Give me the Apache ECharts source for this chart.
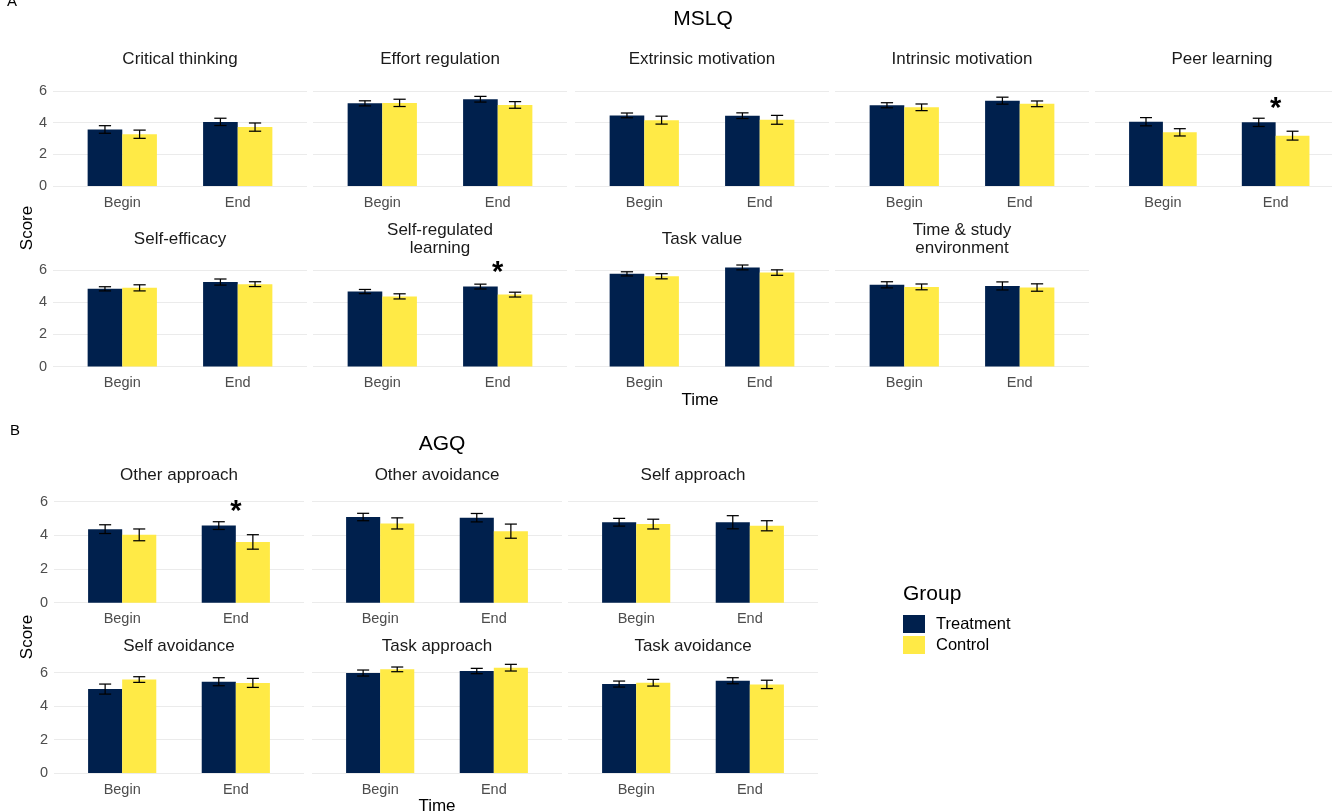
<!DOCTYPE html>
<html>
<head>
<meta charset="utf-8">
<script src="https://cdn.jsdelivr.net/npm/echarts@6/dist/echarts.min.js"></script>
<style>html,body{margin:0;padding:0;background:#fff}#c{width:1332px;height:812px}</style>
</head>
<body>
<div id="c"></div>
<script>
// ---------------- DATA ----------------
const times = ['Begin', 'End'];
const groups = ['Treatment', 'Control'];

const mslqScales = ['Critical thinking', 'Effort regulation', 'Extrinsic motivation', 'Intrinsic motivation', 'Peer learning',
  'Self-efficacy', 'Self-regulated\nlearning', 'Task value', 'Time & study\nenvironment'];
const mslqTreatmentMean = [[3.57, 4.05], [5.22, 5.48], [4.46, 4.44], [5.10, 5.39], [4.06, 4.02], [4.83, 5.25], [4.66, 4.97], [5.76, 6.16], [5.08, 5.01]];
const mslqTreatmentErr  = [[0.24, 0.23], [0.16, 0.18], [0.15, 0.18], [0.16, 0.22], [0.26, 0.26], [0.13, 0.19], [0.13, 0.15], [0.13, 0.15], [0.19, 0.25]];
const mslqControlMean   = [[3.27, 3.72], [5.25, 5.12], [4.16, 4.18], [4.97, 5.19], [3.39, 3.18], [4.89, 5.12], [4.36, 4.47], [5.61, 5.84], [4.95, 4.91]];
const mslqControlErr    = [[0.26, 0.26], [0.23, 0.21], [0.25, 0.28], [0.21, 0.18], [0.23, 0.28], [0.19, 0.15], [0.16, 0.15], [0.16, 0.17], [0.18, 0.23]];

const agqScales = ['Other approach', 'Other avoidance', 'Self approach', 'Self avoidance', 'Task approach', 'Task avoidance'];
const agqTreatmentMean = [[4.37, 4.58], [5.09, 5.05], [4.78, 4.78], [5.02, 5.46], [5.98, 6.10], [5.32, 5.52]];
const agqTreatmentErr  = [[0.26, 0.23], [0.22, 0.25], [0.23, 0.39], [0.30, 0.24], [0.18, 0.16], [0.18, 0.18]];
const agqControlMean   = [[4.03, 3.61], [4.71, 4.25], [4.67, 4.57], [5.59, 5.39], [6.20, 6.30], [5.40, 5.30]];
const agqControlErr    = [[0.35, 0.43], [0.33, 0.42], [0.29, 0.30], [0.17, 0.27], [0.14, 0.20], [0.20, 0.25]];

// significance markers (scale, time, y position of the star in score units)
const starScales = ['Peer learning', 'Self-regulated\nlearning', 'Other approach'];
const starTimes  = ['End', 'End', 'End'];
const starY      = [4.85, 5.8, 5.37];

const yTicks = [0, 2, 4, 6];

// ---------------- LAYOUT ----------------
const FONT = 'Liberation Sans, Arial, sans-serif';
const COLORS = ['#00204D', '#FFEA46'];
const GRIDCOL = '#EBEBEB';

const panels = [];
const aLefts = [53, 313, 575, 835, 1095], aW = 254;
const aRows = [{ y0: 186, y6: 91, ty: 59 }, { y0: 366.5, y6: 270, ty: 239.5 }];
mslqScales.forEach((s, i) => {
  const r = Math.floor(i / 5), c = i % 5;
  panels.push({ scale: s, tm: mslqTreatmentMean[i], te: mslqTreatmentErr[i], cm: mslqControlMean[i], ce: mslqControlErr[i],
    left: aLefts[c], width: aW, y0: aRows[r].y0, y6: aRows[r].y6, ty: aRows[r].ty, showY: c === 0, ymax: 6.6 });
});
const bLefts = [54, 312, 568], bW = 250;
const bRows = [{ y0: 602.7, y6: 501.7, ty: 475 }, { y0: 773, y6: 672.7, ty: 646 }];
agqScales.forEach((s, i) => {
  const r = Math.floor(i / 3), c = i % 3;
  panels.push({ scale: s, tm: agqTreatmentMean[i], te: agqTreatmentErr[i], cm: agqControlMean[i], ce: agqControlErr[i],
    left: bLefts[c], width: bW, y0: bRows[r].y0, y6: bRows[r].y6, ty: bRows[r].ty, showY: c === 0, ymax: 6.9 });
});

const grid = [], xAxis = [], yAxis = [], series = [], graphic = [];

function errRender(params, api) {
  const t = api.value(0), m = api.value(1), e = api.value(2), g = api.value(3);
  const c = api.coord([t, m]);
  const band = api.size([1, 0])[0];
  const x = c[0] + (g === 0 ? -0.15 : 0.15) * band;
  const top = api.coord([t, m + e])[1], bot = api.coord([t, m - e])[1];
  const hw = 0.053 * band;
  const st = { stroke: '#000', lineWidth: 1.25 };
  return { type: 'group', children: [
    { type: 'line', shape: { x1: x, y1: top, x2: x, y2: bot }, style: st },
    { type: 'line', shape: { x1: x - hw, y1: top, x2: x + hw, y2: top }, style: st },
    { type: 'line', shape: { x1: x - hw, y1: bot, x2: x + hw, y2: bot }, style: st }
  ] };
}
function starRender(params, api) {
  const c = api.coord([api.value(0), api.value(1)]);
  return { type: 'text', x: c[0], y: c[1], style: { text: '*', align: 'center', verticalAlign: 'middle',
    font: 'bold 29px ' + FONT, fill: '#000' } };
}

panels.forEach((p, k) => {
  const pxPerUnit = (p.y0 - p.y6) / 6;
  const top = p.y0 - p.ymax * pxPerUnit;
  const height = p.y0 - top;
  const unit = p.width / 2.2;
  grid.push({ left: p.left, top: top, width: p.width, height: height, containLabel: false });
  grid.push({ left: p.left + 0.1 * unit, top: top, width: 2 * unit, height: height, containLabel: false });
  const gb = 2 * k, gd = 2 * k + 1;
  xAxis.push({ gridIndex: gb, type: 'value', show: false, min: 0, max: 1 });
  yAxis.push({ gridIndex: gb, type: 'value', min: 0, max: p.ymax, interval: 2,
    axisLine: { show: false }, axisTick: { show: false },
    splitLine: { show: true, showMaxLine: false, lineStyle: { color: GRIDCOL, width: 1 } },
    axisLabel: { show: p.showY, showMaxLabel: false, margin: 6, color: '#4D4D4D', fontSize: 14.5, fontFamily: FONT,
      formatter: v => (yTicks.indexOf(v) >= 0 ? String(v) : '') } });
  xAxis.push({ gridIndex: gd, type: 'category', data: times, boundaryGap: true,
    axisLine: { show: false }, axisTick: { show: false }, splitLine: { show: false },
    axisLabel: { margin: 9, color: '#4D4D4D', fontSize: 14.5, fontFamily: FONT } });
  yAxis.push({ gridIndex: gd, type: 'value', min: 0, max: p.ymax, show: false, splitLine: { show: false } });

  series.push({ type: 'bar', name: groups[0], xAxisIndex: gd, yAxisIndex: gd, data: p.tm, barWidth: '30%', barGap: '0%',
    itemStyle: { color: COLORS[0] }, silent: true });
  series.push({ type: 'bar', name: groups[1], xAxisIndex: gd, yAxisIndex: gd, data: p.cm, barWidth: '30%', barGap: '0%',
    itemStyle: { color: COLORS[1] }, silent: true });
  const errData = [];
  for (let t = 0; t < 2; t++) {
    errData.push([t, p.tm[t], p.te[t], 0]);
    errData.push([t, p.cm[t], p.ce[t], 1]);
  }
  series.push({ type: 'custom', name: 'err' + k, xAxisIndex: gd, yAxisIndex: gd, renderItem: errRender, data: errData, silent: true, z: 5 });
  const stars = [];
  starScales.forEach((s, j) => { if (s === p.scale) stars.push([times.indexOf(starTimes[j]), starY[j]]); });
  if (stars.length) series.push({ type: 'custom', name: 'star' + k, xAxisIndex: gd, yAxisIndex: gd, renderItem: starRender, data: stars, silent: true, z: 6 });

  graphic.push({ type: 'text', x: p.left + p.width / 2, y: p.ty,
    style: { text: p.scale, align: 'center', verticalAlign: 'middle', font: '17px ' + FONT, fill: '#1A1A1A', lineHeight: 18 } });
});

function txt(s, x, y, font, opts) {
  return Object.assign({ type: 'text', x: x, y: y, style: { text: s, align: 'center', verticalAlign: 'middle', font: font + ' ' + FONT, fill: '#000' } }, opts || {});
}
graphic.push(txt('A', 12, 2, '15px'));
graphic.push(txt('B', 15, 431, '15px'));
graphic.push(txt('MSLQ', 703, 19, '21px'));
graphic.push(txt('AGQ', 442, 444, '21px'));
graphic.push(txt('Time', 700, 400, '17px'));
graphic.push(txt('Time', 437, 806, '17px'));
graphic.push(txt('Score', 27, 228, '17px', { rotation: Math.PI / 2 }));
graphic.push(txt('Score', 27, 637, '17px', { rotation: Math.PI / 2 }));
graphic.push({ type: 'text', x: 903, y: 594, style: { text: 'Group', align: 'left', verticalAlign: 'middle', font: '21px ' + FONT, fill: '#000' } });

const chart = echarts.init(document.getElementById('c'), null, { renderer: 'canvas' });
chart.setOption({
  animation: false,
  backgroundColor: '#fff',
  grid: grid, xAxis: xAxis, yAxis: yAxis, series: series, graphic: graphic,
  legend: { data: groups, orient: 'vertical', left: 903, top: 615, padding: 0, itemWidth: 22, itemHeight: 18, itemGap: 3, icon: 'rect',
    selectedMode: false, textStyle: { fontSize: 16.5, color: '#000', fontFamily: FONT, padding: [0, 0, 0, 6] } }
});
</script>
</body>
</html>
